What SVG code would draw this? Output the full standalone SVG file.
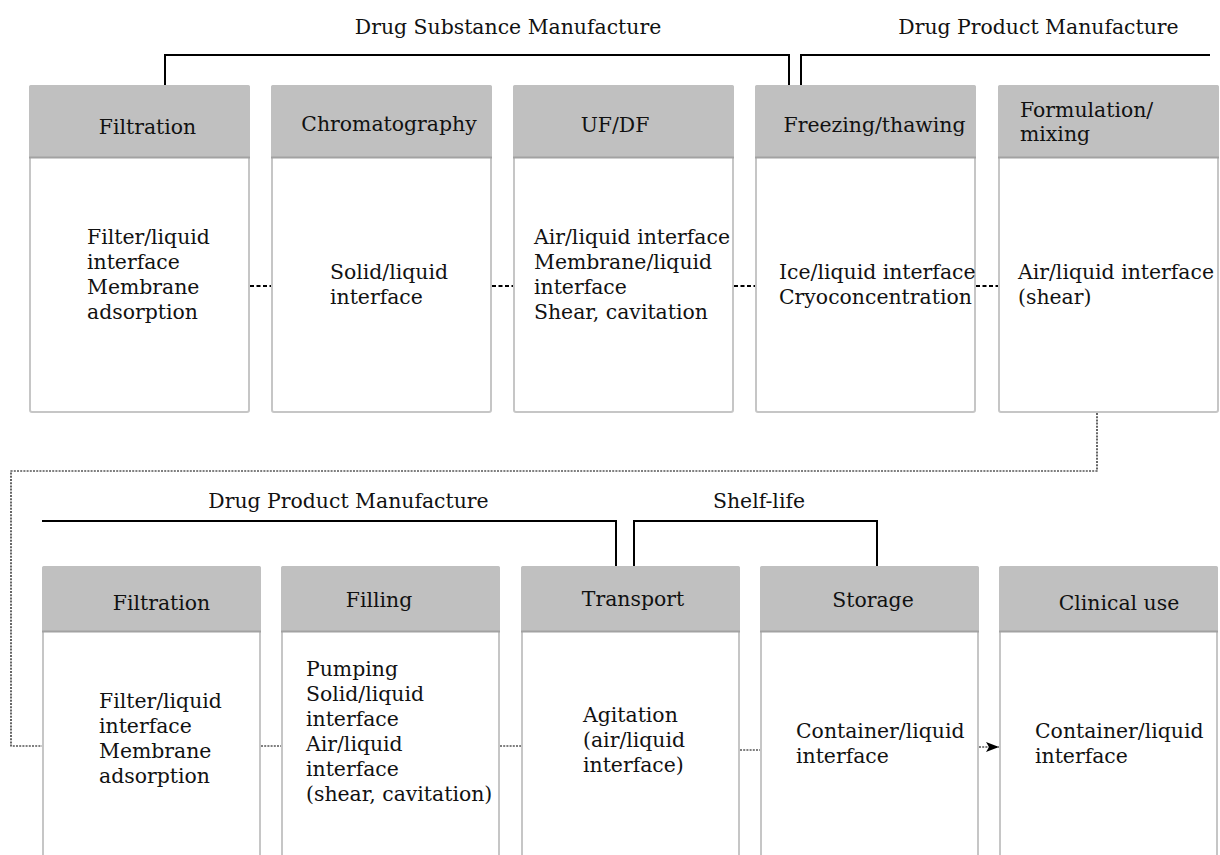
<svg xmlns="http://www.w3.org/2000/svg" width="1220" height="855" viewBox="0 0 1220 855">
<style>
.t{font-family:"DejaVu Serif","Liberation Serif",serif;font-size:20.4px;fill:#111}
.m{text-anchor:middle}
.body{fill:#fff;stroke:#c6c6c6;stroke-width:2}
.head{fill:#c0c0c0}
.hl{stroke:#a2a2a2;stroke-width:2}
.br{fill:none;stroke:#000;stroke-width:2}
.dash{fill:none;stroke:#000;stroke-width:2;stroke-dasharray:4 2.5}
.dot{fill:none;stroke:#000;stroke-width:1.2;stroke-dasharray:2 1.2}
</style>
<defs>
<marker id="ah" markerWidth="14" markerHeight="10" refX="13" refY="5" orient="auto" markerUnits="userSpaceOnUse">
<path d="M0,0 L13,5 L0,10 L3,5 Z" fill="#000"/>
</marker>
</defs>

<!-- Top row -->
<g id="n-filtration1">
<rect class="body" x="30" y="86" width="219" height="326" rx="2"/>
<rect class="head" x="29" y="85" width="221" height="72" rx="2"/>
<line class="hl" x1="29" y1="157.5" x2="250" y2="157.5"/>
<text class="t m" x="147.5" y="134">Filtration</text>
<text class="t" x="87" y="244"><tspan x="87">Filter/liquid</tspan><tspan x="87" dy="25">interface</tspan><tspan x="87" dy="25">Membrane</tspan><tspan x="87" dy="25">adsorption</tspan></text>
</g>
<g id="n-chromatography">
<rect class="body" x="272" y="86" width="219" height="326" rx="2"/>
<rect class="head" x="271" y="85" width="221" height="72" rx="2"/>
<line class="hl" x1="271" y1="157.5" x2="492" y2="157.5"/>
<text class="t m" x="389" y="131">Chromatography</text>
<text class="t" x="330" y="279"><tspan x="330">Solid/liquid</tspan><tspan x="330" dy="25">interface</tspan></text>
</g>
<g id="n-ufdf">
<rect class="body" x="514" y="86" width="219" height="326" rx="2"/>
<rect class="head" x="513" y="85" width="221" height="72" rx="2"/>
<line class="hl" x1="513" y1="157.5" x2="734" y2="157.5"/>
<text class="t m" x="615" y="132">UF/DF</text>
<text class="t" x="534" y="244"><tspan x="534">Air/liquid interface</tspan><tspan x="534" dy="25">Membrane/liquid</tspan><tspan x="534" dy="25">interface</tspan><tspan x="534" dy="25">Shear, cavitation</tspan></text>
</g>
<g id="n-freezing">
<rect class="body" x="756" y="86" width="219" height="326" rx="2"/>
<rect class="head" x="755" y="85" width="221" height="72" rx="2"/>
<line class="hl" x1="755" y1="157.5" x2="976" y2="157.5"/>
<text class="t m" x="874.5" y="132">Freezing/thawing</text>
<text class="t" x="779" y="279"><tspan x="779">Ice/liquid interface</tspan><tspan x="779" dy="25">Cryoconcentration</tspan></text>
</g>
<g id="n-formulation">
<rect class="body" x="999" y="86" width="219" height="326" rx="2"/>
<rect class="head" x="998" y="85" width="221" height="72" rx="2"/>
<line class="hl" x1="998" y1="157.5" x2="1219" y2="157.5"/>
<text class="t" x="1020" y="117"><tspan x="1020">Formulation/</tspan><tspan x="1020" dy="24">mixing</tspan></text>
<text class="t" x="1018" y="279"><tspan x="1018">Air/liquid interface</tspan><tspan x="1018" dy="25">(shear)</tspan></text>
</g>

<!-- Bottom row -->
<g id="n-filtration2">
<rect class="body" x="43" y="567" width="217" height="320" rx="2"/>
<rect class="head" x="42" y="566" width="219" height="65" rx="2"/>
<line class="hl" x1="42" y1="631.5" x2="261" y2="631.5"/>
<text class="t m" x="161.5" y="610">Filtration</text>
<text class="t" x="99" y="708"><tspan x="99">Filter/liquid</tspan><tspan x="99" dy="25">interface</tspan><tspan x="99" dy="25">Membrane</tspan><tspan x="99" dy="25">adsorption</tspan></text>
</g>
<g id="n-filling">
<rect class="body" x="282" y="567" width="217" height="320" rx="2"/>
<rect class="head" x="281" y="566" width="219" height="65" rx="2"/>
<line class="hl" x1="281" y1="631.5" x2="500" y2="631.5"/>
<text class="t m" x="379" y="607">Filling</text>
<text class="t" x="306" y="676"><tspan x="306">Pumping</tspan><tspan x="306" dy="25">Solid/liquid</tspan><tspan x="306" dy="25">interface</tspan><tspan x="306" dy="25">Air/liquid</tspan><tspan x="306" dy="25">interface</tspan><tspan x="306" dy="25">(shear, cavitation)</tspan></text>
</g>
<g id="n-transport">
<rect class="body" x="522" y="567" width="217" height="320" rx="2"/>
<rect class="head" x="521" y="566" width="219" height="65" rx="2"/>
<line class="hl" x1="521" y1="631.5" x2="740" y2="631.5"/>
<text class="t m" x="633" y="606">Transport</text>
<text class="t" x="583" y="722"><tspan x="583">Agitation</tspan><tspan x="583" dy="25">(air/liquid</tspan><tspan x="583" dy="25">interface)</tspan></text>
</g>
<g id="n-storage">
<rect class="body" x="761" y="567" width="217" height="320" rx="2"/>
<rect class="head" x="760" y="566" width="219" height="65" rx="2"/>
<line class="hl" x1="760" y1="631.5" x2="979" y2="631.5"/>
<text class="t m" x="873" y="607">Storage</text>
<text class="t" x="796" y="738"><tspan x="796">Container/liquid</tspan><tspan x="796" dy="25">interface</tspan></text>
</g>
<g id="n-clinical">
<rect class="body" x="1000" y="567" width="217" height="320" rx="2"/>
<rect class="head" x="999" y="566" width="219" height="65" rx="2"/>
<line class="hl" x1="999" y1="631.5" x2="1218" y2="631.5"/>
<text class="t m" x="1119" y="610">Clinical use</text>
<text class="t" x="1035" y="738"><tspan x="1035">Container/liquid</tspan><tspan x="1035" dy="25">interface</tspan></text>
</g>

<!-- Brackets / phase labels -->
<g id="phases">
<polyline class="br" points="165,85 165,55 789,55 789,85"/>
<text class="t m" x="508" y="34">Drug Substance Manufacture</text>
<polyline class="br" points="801,85 801,55 1210,55"/>
<text class="t m" x="1038.5" y="34">Drug Product Manufacture</text>
<polyline class="br" points="42,521 616,521 616,566"/>
<text class="t m" x="348.5" y="508">Drug Product Manufacture</text>
<polyline class="br" points="634,566 634,521 877,521 877,566"/>
<text class="t m" x="759" y="508">Shelf-life</text>
</g>

<!-- Connectors -->
<g id="connectors">
<line class="dash" x1="250" y1="286" x2="271" y2="286"/>
<line class="dash" x1="492" y1="286" x2="513" y2="286"/>
<line class="dash" x1="734" y1="286" x2="755" y2="286"/>
<line class="dash" x1="976" y1="286" x2="998" y2="286"/>
<polyline class="dot" points="1097,413 1097,471 11,471 11,746 42,746"/>
<line class="dot" x1="261" y1="746" x2="281" y2="746"/>
<line class="dot" x1="500" y1="746" x2="521" y2="746"/>
<line class="dot" x1="740" y1="750" x2="760" y2="750"/>
<line class="dot" x1="979" y1="747" x2="999" y2="747" marker-end="url(#ah)"/>
</g>
</svg>
